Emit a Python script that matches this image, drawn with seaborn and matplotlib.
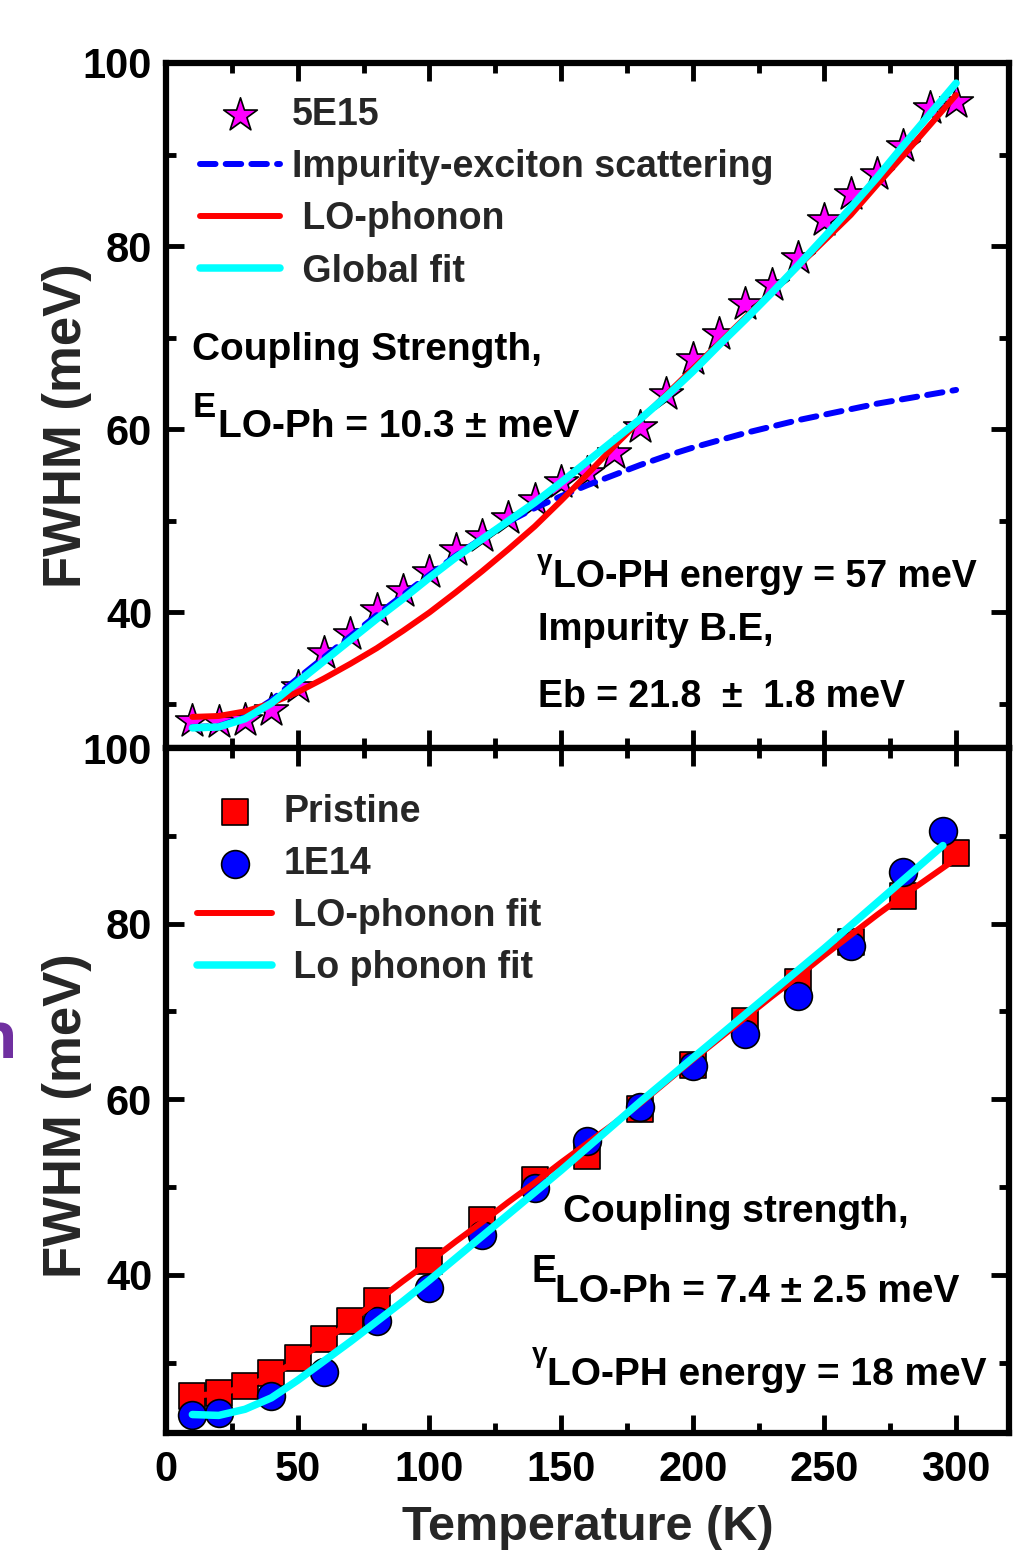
import numpy as np
import pandas as pd
import matplotlib
matplotlib.use("Agg")
import matplotlib.pyplot as plt
from matplotlib.ticker import MultipleLocator
import seaborn as sns

# ---------------- data ----------------
# 5E15 sample: measured FWHM and fit components
t_5e15 = [10, 20, 30, 40, 50, 60, 70, 80, 90, 100, 110, 120, 130, 140, 150,
          160, 170, 180, 190, 200, 210, 220, 230, 240, 250, 260, 270, 280, 290, 300]
fwhm_5e15 = [28.1, 28.0, 28.3, 29.4, 31.9, 35.6, 37.6, 40.3, 42.3, 44.4, 46.8, 48.4,
             50.3, 52.3, 54.3, 55.2, 57.4, 60.2, 63.9, 67.7, 70.4, 73.7, 75.8, 78.7,
             82.9, 85.7, 87.9, 90.9, 95.1, 95.7]

t_fit_top = t_5e15
impurity_fit = [27.5, 27.6, 28.6, 30.4, 32.8, 35.1, 37.4, 39.7, 41.9, 44.1, 46.2, 48.1,
                49.9, 51.4, 52.7, 53.9, 55.0, 56.1, 57.1, 58.0, 58.8, 59.6, 60.3, 61.0,
                61.6, 62.2, 62.8, 63.3, 63.8, 64.3]
lo_phonon_top = [28.6, 28.7, 29.2, 30.1, 31.3, 32.8, 34.4, 36.1, 38.0, 40.0, 42.2, 44.5,
                 46.9, 49.4, 52.2, 55.1, 58.1, 61.0, 63.8, 66.6, 69.4, 72.2, 75.0, 77.8,
                 80.6, 83.4, 86.7, 89.9, 93.2, 96.5]
global_fit = [27.4, 27.5, 28.4, 30.1, 32.4, 34.7, 37.0, 39.3, 41.5, 43.8, 46.0, 48.0,
              50.0, 52.0, 54.2, 56.5, 58.8, 61.1, 63.6, 66.3, 69.2, 72.0, 74.9, 77.9,
              81.0, 84.2, 87.5, 91.0, 94.4, 97.8]

# Pristine and 1E14 samples
t_pristine = [10, 20, 30, 40, 50, 60, 70, 80, 100, 120, 140, 160, 180, 200, 220, 240,
              260, 280, 300]
fwhm_pristine = [26.2, 26.5, 27.3, 28.8, 30.5, 32.7, 34.7, 37.0, 41.6, 46.3, 50.8, 53.5,
                 58.9, 63.9, 68.9, 73.4, 77.9, 83.1, 88.0]
t_1e14 = [10, 20, 40, 60, 80, 100, 120, 140, 160, 180, 200, 220, 240, 260, 280, 295]
fwhm_1e14 = [24.1, 24.3, 26.2, 29.0, 34.8, 38.5, 44.6, 49.9, 55.2, 59.1, 63.8, 67.4,
             71.8, 77.5, 85.9, 90.5]

t_fit_pristine = [10, 20, 30, 40, 50, 60, 70, 80, 90, 100, 110, 120, 130, 140, 150, 160,
                  170, 180, 190, 200, 210, 220, 230, 240, 250, 260, 270, 280, 290, 300]
lo_fit_pristine = [26.2, 26.5, 27.2, 28.5, 30.3, 32.4, 34.7, 37.0, 39.3, 41.5, 43.8, 46.0,
                   48.3, 50.5, 52.8, 55.0, 57.2, 59.5, 62.0, 64.5, 66.9, 69.3, 71.7, 74.0,
                   76.4, 78.7, 81.0, 83.2, 85.3, 87.4]
t_fit_1e14 = [10, 20, 30, 40, 50, 60, 70, 80, 90, 100, 110, 120, 130, 140, 150, 160, 170,
              180, 190, 200, 210, 220, 230, 240, 250, 260, 270, 280, 290, 295]
lo_fit_1e14 = [24.1, 24.0, 24.7, 26.0, 28.0, 30.2, 32.4, 34.7, 37.0, 39.4, 41.9, 44.4,
               46.9, 49.4, 51.9, 54.5, 57.1, 59.7, 62.2, 64.7, 67.2, 69.7, 72.2, 74.7,
               77.2, 79.8, 82.4, 85.0, 87.6, 88.9]

x_ticks = [0, 50, 100, 150, 200, 250, 300]
y_ticks = [40, 60, 80, 100]

# ---------------- style ----------------
sns.set_style("ticks")
plt.rcParams["font.family"] = ["Liberation Sans", "DejaVu Sans"]
plt.rcParams["font.weight"] = "bold"
plt.rcParams["axes.labelweight"] = "bold"
plt.rcParams["axes.linewidth"] = 4.5
plt.rcParams["axes.edgecolor"] = "black"

MAGENTA = "#FF00FF"
RED = "#FF0000"
BLUE = "#0000FF"
CYAN = "#00FFFF"

fig = plt.figure(figsize=(10.21, 15.51), dpi=100)
ax1 = fig.add_axes([0.1626, 0.5177, 0.8254, 0.4417])
ax2 = fig.add_axes([0.1626, 0.0761, 0.8254, 0.4416])


def style_axes(ax, ylo, show_x):
    ax.set_xlim(0, 320)
    ax.set_ylim(ylo, 100)
    ax.set_xticks(x_ticks)
    ax.set_yticks(y_ticks)
    ax.xaxis.set_minor_locator(MultipleLocator(25))
    ax.yaxis.set_minor_locator(MultipleLocator(10))
    ax.tick_params(which="both", direction="in", top=True, right=True,
                   width=3.5, colors="black")
    ax.tick_params(which="major", length=13, labelsize=30, pad=10)
    ax.tick_params(which="minor", length=7)
    ax.tick_params(axis="x", labelbottom=show_x, pad=12)
    for sp in ax.spines.values():
        sp.set_visible(True)
        sp.set_linewidth(4.5)
    ax.set_ylabel("FWHM (meV)", fontsize=38, fontweight="bold")


# ---------------- top panel ----------------
sns.scatterplot(x=t_5e15, y=fwhm_5e15, ax=ax1, marker="*", s=650, color=MAGENTA,
                edgecolor="black", linewidth=1.2, label="5E15", zorder=2)
sns.lineplot(x=t_fit_top, y=impurity_fit, ax=ax1, color=BLUE, lw=4.3,
             label="Impurity-exciton scattering", zorder=3)
ax1.lines[-1].set_dashes([2.6, 1.7])
ax1.lines[-1].set_dash_capstyle("round")
sns.lineplot(x=t_fit_top, y=lo_phonon_top, ax=ax1, color=RED, lw=4.3,
             label=" LO-phonon", zorder=4)
sns.lineplot(x=t_fit_top, y=global_fit, ax=ax1, color=CYAN, lw=5.4,
             label=" Global fit", zorder=5)

style_axes(ax1, 25.2, False)
ax1.set_xlabel("")
ax1.yaxis.set_label_coords(-0.088, 0.47)

h, l = ax1.get_legend_handles_labels()
order = ["5E15", "Impurity-exciton scattering", " LO-phonon", " Global fit"]
hd = dict(zip(l, h))
ax1.legend([hd[k] for k in order], order, loc="upper left",
           bbox_to_anchor=(0.040, 0.950), frameon=False, fontsize=27,
           handlelength=2.15, handletextpad=0.3, labelspacing=0.43,
           borderpad=0, borderaxespad=0)

txt = dict(transform=ax1.transAxes, ha="left", va="baseline", color="black",
           fontweight="bold")
ax1.text(0.031, 0.566, "Coupling Strength,", fontsize=28, **txt)
ax1.text(0.032, 0.483, "E", fontsize=25, **txt)
ax1.text(0.062, 0.454, "LO-Ph = 10.3 ± meV", fontsize=28, **txt)
ax1.text(0.440, 0.262, "γ", fontsize=20, **txt)
ax1.text(0.459, 0.235, "LO-PH energy = 57 meV", fontsize=27, **txt)
ax1.text(0.441, 0.158, "Impurity B.E,", fontsize=27.5, **txt)
ax1.text(0.441, 0.060, "Eb = 21.8  ±  1.8 meV", fontsize=27, **txt)

# ---------------- bottom panel ----------------
sns.scatterplot(x=t_pristine, y=fwhm_pristine, ax=ax2, marker="s", s=340, color=RED,
                edgecolor="black", linewidth=1.2, label="Pristine", zorder=2)
sns.scatterplot(x=t_1e14, y=fwhm_1e14, ax=ax2, marker="o", s=400, color=BLUE,
                edgecolor="black", linewidth=1.2, label="1E14", zorder=3)
sns.lineplot(x=t_fit_pristine, y=lo_fit_pristine, ax=ax2, color=RED, lw=4.3,
             label=" LO-phonon fit", zorder=4)
sns.lineplot(x=t_fit_1e14, y=lo_fit_1e14, ax=ax2, color=CYAN, lw=5.4,
             label=" Lo phonon fit", zorder=5)

style_axes(ax2, 22.0, True)
ax2.set_xlabel("Temperature (K)", fontsize=35, fontweight="bold", labelpad=11)
ax2.yaxis.set_label_coords(-0.088, 0.464)

h, l = ax2.get_legend_handles_labels()
order = ["Pristine", "1E14", " LO-phonon fit", " Lo phonon fit"]
hd = dict(zip(l, h))
ax2.legend([hd[k] for k in order], order, loc="upper left",
           bbox_to_anchor=(0.037, 0.933), frameon=False, fontsize=27,
           handlelength=2.0, handletextpad=0.3, labelspacing=0.43,
           borderpad=0, borderaxespad=0)

txt2 = dict(transform=ax2.transAxes, ha="left", va="baseline", color="black",
            fontweight="bold")
ax2.text(0.471, 0.308, "Coupling strength,", fontsize=28, **txt2)
ax2.text(0.434, 0.220, "E", fontsize=27, **txt2)
ax2.text(0.461, 0.191, "LO-Ph = 7.4 ± 2.5 meV", fontsize=28, **txt2)
ax2.text(0.434, 0.104, "γ", fontsize=20, **txt2)
ax2.text(0.452, 0.070, "LO-PH energy = 18 meV", fontsize=28, **txt2)

# clipped fragment of a heading at the left edge
fig.text(0.017, 0.318, "n", ha="right", va="baseline", color="#7030A0",
         fontsize=47, fontweight="bold", family=["Open Sans", "DejaVu Sans"])

fig.savefig("out.png", dpi=100)
